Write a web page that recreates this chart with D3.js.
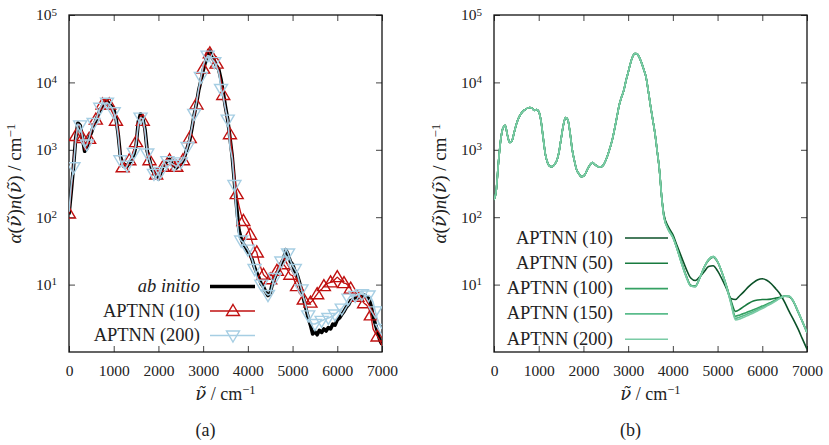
<!DOCTYPE html>
<html lang="en">
<head>
<meta charset="utf-8">
<script src="https://cdn.jsdelivr.net/npm/d3@7"></script>
<style>
  body { margin: 0; background: #fff; }
  svg text { font-family: "Liberation Serif", "DejaVu Serif", serif; fill: #222; }
  .nu { font-family: "DejaVu Serif", serif; font-style: italic; }
</style>
</head>
<body>
<script>
  // ---- data -------------------------------------------------------------
  // wavenumber ticks, shared by both panels
  var xTickValues = [0, 1000, 2000, 3000, 4000, 5000, 6000, 7000];
  var yTickValues = [10, 100, 1000, 10000, 100000];

  // panel (a): spectra sampled every 50 cm^-1 from 0 to 7000
  var leftStep = 50;
  var abInitio = [
    110, 240, 560, 1500, 2500, 2300, 1500, 950, 1050, 1500,
    1800, 2300, 2700, 3300, 3900, 4500, 5100, 5300, 4800, 4400,
    4000, 3000, 1700, 800, 620, 600, 570, 640, 700, 850,
    1150, 2600, 3400, 2900, 2000, 950, 720, 520, 460, 400,
    370, 450, 560, 620, 700, 720, 620, 590, 540, 580,
    610, 680, 850, 1100, 1400, 2100, 3300, 4800, 7600, 10500,
    15000, 20000, 28000, 29000, 23000, 21000, 17500, 15500, 11000, 7000,
    4300, 2800, 1500, 800, 330, 140, 65, 48, 40, 36,
    31, 28, 23, 18, 15, 12.5, 10.2, 9.2, 7.8, 6.9,
    7.5, 10.5, 12.5, 15, 17, 21, 24, 33, 28, 22,
    20, 16, 14.2, 11, 8.2, 6, 4.4, 3.2, 2.5, 1.85,
    2.0, 1.8, 2.1, 1.95, 2.2, 2.05, 2.3, 2.2, 2.6, 2.5,
    3.0, 3.2, 3.6, 4.0, 4.6, 5.0, 5.8, 6.0, 6.6, 6.3,
    6.9, 6.7, 7.0, 6.6, 6.3, 5.0, 3.4, 2.6, 2.0, 1.5,
    1.3
  ];
  var aptnn10 = [
    113, 250, 600, 1600, 2400, 2200, 1500, 1000, 1100, 1450,
    1850, 2400, 2800, 3300, 4000, 4700, 5600, 5300, 4700, 3800,
    3300, 2700, 2000, 750, 550, 560, 600, 700, 800, 1000,
    1300, 2400, 3200, 2700, 1800, 950, 700, 550, 470, 430,
    420, 480, 560, 640, 720, 700, 620, 580, 560, 560,
    620, 700, 900, 1150, 1500, 2100, 3100, 4700, 7500, 11000,
    16000, 22000, 31000, 27000, 22000, 21000, 19000, 15000, 10500, 6500,
    4000, 2700, 1700, 900, 420, 220, 150, 110, 88, 78,
    70, 55, 42, 34, 30, 22, 17, 14, 13, 12,
    12, 12.5, 14.5, 16, 19, 18, 20, 18, 16, 14,
    13.6, 11, 9.5, 7.5, 6.9, 6.0, 5.5, 5.2, 5.4, 5.8,
    6.5, 7.2, 8.1, 8.5, 9.5, 10.2, 10.5, 10.8, 11, 12,
    12.9, 12, 11.3, 10.5, 10.3, 9.6, 8.7, 7.5, 7.0, 6.6,
    6.2, 5.8, 5.3, 5.0, 4.5, 3.5, 2.2, 1.9, 1.7, 1.5,
    1.25
  ];
  var aptnn200 = [
    120, 300, 550, 1400, 2400, 2300, 1600, 1100, 1200, 1500,
    2000, 2500, 2800, 3500, 4200, 4900, 4800, 5000, 4700, 4300,
    3600, 2800, 1600, 700, 560, 520, 580, 700, 760, 900,
    1200, 2400, 3000, 2900, 1900, 880, 700, 560, 440, 370,
    350, 470, 600, 700, 680, 650, 620, 600, 560, 620,
    650, 720, 860, 1100, 1500, 2200, 3400, 5000, 8000, 12000,
    18000, 22000, 25000, 24000, 22000, 20000, 17000, 14000, 8000, 6000,
    4000, 2800, 1100, 750, 300, 100, 50, 45, 42, 37,
    33, 28, 23, 17, 13, 11, 10, 8.5, 7.5, 7,
    7.2, 10, 12.5, 15, 17.5, 22, 26, 34, 29, 23,
    19, 17, 15, 11, 8.5, 6.2, 4.8, 3.5, 2.8, 2.6,
    2.6, 2.7, 2.8, 2.9, 3.0, 3.1, 3.2, 3.3, 3.4, 3.6,
    3.9, 4.2, 4.4, 4.9, 5.4, 6.2, 6.9, 7.0, 6.8, 7.1,
    7.3, 7.2, 7.0, 6.8, 6.9, 6.5, 5.5, 4.0, 3.0, 2.5,
    2.2
  ];

  // panel (b): all models agree below 3800 cm^-1 (every 50 cm^-1, 0..3750)
  var commonStep = 50;
  var commonPart = [
    180, 250, 650, 1400, 2100, 2300, 1650, 1280, 1350, 1800,
    2400, 2950, 3400, 3750, 3950, 4150, 4250, 4150, 3850, 3950,
    3700, 2700, 1500, 850, 640, 570, 560, 600, 680, 900,
    1450, 2300, 3000, 2800, 1800, 1000, 680, 500, 440, 400,
    405, 450, 530, 600, 645, 610, 575, 556, 560, 600,
    700, 860, 1100, 1450, 2100, 3100, 4600, 6000, 7500, 10500,
    14000, 19000, 24000, 26800, 26500, 23500, 19500, 15500, 12000, 7500,
    4500, 2800, 1750, 950, 500, 200
  ];
  // tails every 100 cm^-1 from 3800 to 7000
  var tailStart = 3800, tailStep = 100;
  var tail10 = [110, 72, 55, 37, 25, 17, 12.5, 11.5, 13, 15.5, 18.5, 19, 16, 12, 8.7, 6.2, 6.0, 6.9, 8.0, 9.4, 10.7, 11.8, 12.2, 11.6, 10.3, 8.7, 7.2, 5.5, 4.0, 3.0, 2.2, 1.55, 1.1];
  var tail50 = [105, 68, 52, 34, 21, 13.5, 9.8, 9.5, 12.5, 18, 23, 25.5, 21.5, 15, 9.5, 5.8, 4.0, 4.3, 4.8, 5.3, 5.7, 5.9, 6.0, 6.0, 6.1, 6.3, 6.5, 6.7, 6.6, 5.5, 3.9, 2.8, 1.95];
  var tail100 = [102, 66, 51, 33, 20.5, 13.2, 9.6, 9.4, 12.5, 18, 23.5, 26, 22, 15, 9.4, 5.5, 3.4, 3.55, 3.75, 4.0, 4.25, 4.5, 4.8, 5.1, 5.5, 5.9, 6.4, 6.75, 6.7, 5.6, 4.0, 2.8, 1.95];
  var tail150 = [101, 65, 50, 33, 20, 13, 9.5, 9.3, 12.5, 18, 23.5, 26, 22, 15, 9.3, 5.3, 3.15, 3.3, 3.5, 3.75, 4.0, 4.3, 4.6, 4.95, 5.35, 5.8, 6.3, 6.7, 6.7, 5.6, 4.0, 2.8, 1.95];
  var tail200 = [100, 65, 50, 33, 20, 13, 9.5, 9.3, 12.5, 18, 23.5, 26, 22, 15, 9.3, 5.2, 3.0, 3.1, 3.3, 3.55, 3.8, 4.1, 4.4, 4.8, 5.2, 5.7, 6.3, 6.7, 6.7, 5.6, 4.0, 2.8, 1.95];

  var rightLabels = ["APTNN (10)", "APTNN (50)", "APTNN (100)", "APTNN (150)", "APTNN (200)"];
  var rightTails = [tail10, tail50, tail100, tail150, tail200];
  var greens = ["#0b5128", "#187a3f", "#35a163", "#5bbc8c", "#7acba5"];

  // ---- layout -----------------------------------------------------------
  var width = 829, height = 445;
  var plotTop = 15, plotBottom = 352;

  var svg = d3.select("body").append("svg")
      .attr("width", width)
      .attr("height", height);

  var y = d3.scaleLog().domain([1, 1e5]).range([plotBottom, plotTop]);
  var xLeft = d3.scaleLinear().domain([0, 7000]).range([69, 382]);
  var xRight = d3.scaleLinear().domain([0, 7000]).range([494, 807]);

  var toPoints = function(values, start, step) {
    return values.map((v, i) => [start + i * step, v]);
  };

  // axis text uses the serif font, not d3's default sans-serif 10px
  function styleAxis(g) {
    g.attr("font-family", null).attr("font-size", 15.5).attr("color", "#444");
    g.select(".domain").remove();
    g.selectAll(".tick text").style("fill", "#222");
  }

  // italic nu with a tilde on top
  function nuTilde(text) {
    text.append("tspan").attr("class", "nu").text("\u03bd\u0303");
  }

  function drawFrame(x, name, caption, yLabelX) {
    var x0 = x.range()[0], x1 = x.range()[1];

    var axes = svg.append("g");

    axes.append("g")
      .attr("transform", "translate(0," + plotBottom + ")")
      .call(d3.axisBottom(x).tickValues(xTickValues).tickSizeInner(-6).tickSizeOuter(0)
        .tickPadding(13).tickFormat(d3.format("d")))
      .call(styleAxis);
    axes.append("g")
      .attr("transform", "translate(0," + plotTop + ")")
      .call(d3.axisTop(x).tickValues(xTickValues).tickSizeInner(-6).tickSizeOuter(0).tickFormat(""))
      .call(styleAxis);
    var leftAxis = axes.append("g")
      .attr("transform", "translate(" + x0 + ",0)")
      .call(d3.axisLeft(y).tickValues(yTickValues).tickSizeInner(-6).tickSizeOuter(0).tickPadding(12))
      .call(styleAxis);
    axes.append("g")
      .attr("transform", "translate(" + x1 + ",0)")
      .call(d3.axisRight(y).tickValues(yTickValues).tickSizeInner(-6).tickSizeOuter(0).tickFormat(""))
      .call(styleAxis);

    // powers of ten
    leftAxis.selectAll(".tick text")
      .text(null)
      .each(function(d) {
        var t = d3.select(this);
        t.append("tspan").text("10");
        t.append("tspan").attr("dy", "-0.45em").attr("font-size", 11)
          .text(Math.round(Math.log10(d)));
      });

    svg.append("rect")
      .attr("x", x0).attr("y", plotTop)
      .attr("width", x1 - x0).attr("height", plotBottom - plotTop)
      .attr("fill", "none")
      .attr("stroke", "#111")
      .attr("stroke-width", 1.3);

    svg.append("clipPath").attr("id", name)
      .append("rect")
      .attr("x", x0).attr("y", plotTop)
      .attr("width", x1 - x0).attr("height", plotBottom - plotTop);

    // axis titles
    var xl = svg.append("text")
      .attr("x", (x0 + x1) / 2).attr("y", 400)
      .attr("text-anchor", "middle")
      .attr("font-size", 18);
    nuTilde(xl);
    xl.append("tspan").text(" / cm");
    xl.append("tspan").attr("dy", "-0.45em").attr("font-size", 12.5).text("\u22121");

    var yl = svg.append("text")
      .attr("transform", "translate(" + yLabelX + "," + ((plotTop + plotBottom) / 2) + ") rotate(-90)")
      .attr("text-anchor", "middle")
      .attr("font-size", 19);
    yl.append("tspan").attr("font-style", "italic").text("\u03b1");
    yl.append("tspan").text("(");
    nuTilde(yl);
    yl.append("tspan").text(")");
    yl.append("tspan").attr("font-style", "italic").text("n");
    yl.append("tspan").text("(");
    nuTilde(yl);
    yl.append("tspan").text(") / cm");
    yl.append("tspan").attr("dy", "-0.45em").attr("font-size", 13).text("\u22121");

    svg.append("text")
      .attr("x", (x0 + x1) / 2 - 20).attr("y", 436)
      .attr("text-anchor", "middle")
      .attr("font-size", 18)
      .text(caption);

    return svg.append("g").attr("clip-path", "url(#" + name + ")");
  }

  var triUp = "M0,-6.5L6.5,4.5L-6.5,4.5Z",
      triDown = "M0,6.5L6.5,-4.5L-6.5,-4.5Z";

  // ---- panel (a) --------------------------------------------------------
  var plotA = drawFrame(xLeft, "clipA", "(a)", 21);

  var lineA = d3.line()
    .x(d => xLeft(d[0]))
    .y(d => y(d[1]));

  var seriesA = [
    { name: "ab initio", values: abInitio, color: "#000", width: 3.6, marker: null },
    { name: "APTNN (10)", values: aptnn10, color: "#c01010", width: 1.3, marker: triUp, offset: 0 },
    { name: "APTNN (200)", values: aptnn200, color: "#a6cee3", width: 1.6, marker: triDown, offset: 2 }
  ];

  seriesA.forEach(function(s) {
    var pts = toPoints(s.values, 0, leftStep);
    plotA.append("path")
      .datum(pts)
      .attr("fill", "none")
      .attr("stroke", s.color)
      .attr("stroke-width", s.width)
      .attr("stroke-linejoin", "round")
      .attr("d", lineA);
    if (s.marker) {
      plotA.append("g")
        .selectAll("path")
        .data(pts.filter((d, i) => i % 3 === s.offset))
        .enter().append("path")
          .attr("transform", d => "translate(" + xLeft(d[0]) + "," + y(d[1]) + ")")
          .attr("d", s.marker)
          .attr("fill", "none")
          .attr("stroke", s.color)
          .attr("stroke-width", 1.4);
    }
  });

  var legendA = svg.append("g");
  seriesA.forEach(function(s, i) {
    var ly = 286.5 + i * 24.5;
    legendA.append("text")
      .attr("x", 200).attr("y", ly + 5.5)
      .attr("text-anchor", "end")
      .attr("font-size", 18.5)
      .attr("font-style", i === 0 ? "italic" : null)
      .text(s.name);
    legendA.append("line")
      .attr("x1", 210).attr("x2", 255)
      .attr("y1", ly).attr("y2", ly)
      .attr("stroke", s.color)
      .attr("stroke-width", s.width);
    if (s.marker) {
      legendA.append("path")
        .attr("transform", "translate(233," + ly + ")")
        .attr("d", s.marker)
        .attr("fill", "none")
        .attr("stroke", s.color)
        .attr("stroke-width", 1.4);
    }
  });

  // ---- panel (b) --------------------------------------------------------
  var plotB = drawFrame(xRight, "clipB", "(b)", 446);

  var lineB = d3.line()
    .curve(d3.curveMonotoneX)
    .x(d => xRight(d[0]))
    .y(d => y(d[1]));

  var commonPts = toPoints(commonPart, 0, commonStep);

  rightTails.forEach(function(tail, i) {
    var pts = commonPts.concat(toPoints(tail, tailStart, tailStep));
    plotB.append("path")
      .datum(pts)
      .attr("fill", "none")
      .attr("stroke", greens[i])
      .attr("stroke-width", 1.6)
      .attr("d", lineB);
  });

  var legendB = svg.append("g");
  rightLabels.forEach(function(label, i) {
    var ly = 238 + i * 25.3;
    legendB.append("text")
      .attr("x", 613).attr("y", ly + 5.5)
      .attr("text-anchor", "end")
      .attr("font-size", 18.5)
      .text(label);
    legendB.append("line")
      .attr("x1", 625).attr("x2", 668)
      .attr("y1", ly).attr("y2", ly)
      .attr("stroke", greens[i])
      .attr("stroke-width", 1.6);
  });
</script>
</body>
</html>
